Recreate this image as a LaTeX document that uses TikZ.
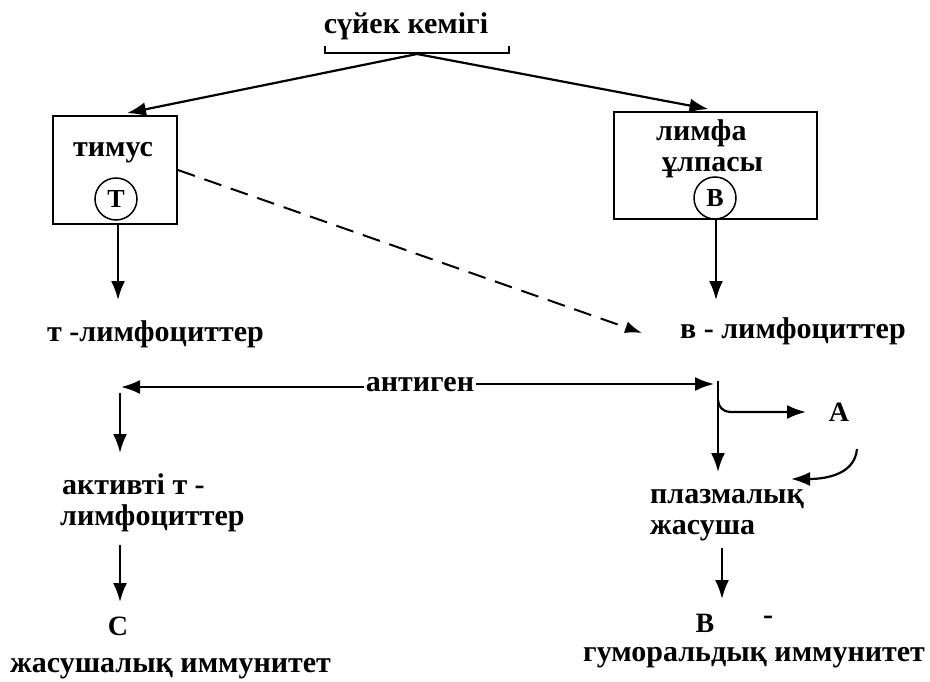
\documentclass[tikz,border=0pt]{standalone}
\usepackage{fontspec}
\setmainfont{Liberation Serif}
\usetikzlibrary{arrows.meta,calc}
\begin{document}
\begin{tikzpicture}[x=1pt,y=-1pt,
  txt/.style={font=\fontsize{30}{31}\selectfont\bfseries, inner sep=0pt},
  two/.style={txt, align=left, anchor=west},
  ltr/.style={font=\fontsize{28}{31}\selectfont\bfseries, inner sep=0pt},
  boxst/.style={draw, line width=1.8pt, inner sep=0pt},
  circ/.style={draw, circle, line width=1.5pt, minimum size=42pt, inner sep=0pt, font=\fontsize{26}{28}\selectfont\bfseries},
  ln/.style={line width=2pt},
  arr/.style={line width=2.2pt, -{Latex[length=19pt,width=14pt]}},
  dsh/.style={line width=2pt, dash pattern=on 18pt off 10pt, -{Latex[length=17pt,width=12pt]}}]
\useasboundingbox (0,0) rectangle (930,682);
% top
\node[txt] (bm) at (406,26) {сүйек кемігі};
\coordinate (bl) at (325,46);
\coordinate (br) at (509,46);
\coordinate (ap) at (417,54);
\draw[ln] (bl) -- ++(0,7) -- ($(br)+(0,7)$) -- (br);
% boxes
\node[boxst, minimum width=124pt, minimum height=108pt] (tim) at (115,170) {};
\node[boxst, minimum width=203pt, minimum height=107pt] (lim) at (715.5,165.5) {};
\node[txt] (timt) at (113,153) {тимус};
\node[circ] (T) at (116,199) {T};
\node[two] (limt) at (656,149) {лимфа\\\hspace*{6pt}ұлпасы};
\node[circ] (B) at (715,198) {B};
\draw[arr] (ap) -- ($(tim.north)+(12,-2)$);
\draw[arr] (ap) -- ($(lim.north)+(-7,-2)$);
% down from boxes
\coordinate (tl1) at (118,300);
\coordinate (bl1) at (716,300);
\draw[arr] (tim.south -| tl1) -- (tl1);
\draw[arr] (lim.south -| bl1) -- (bl1);
\node[txt, anchor=east] (tly) at (264,334) {т -лимфоциттер};
\node[txt, anchor=west] (bly) at (680,331) {в - лимфоциттер};
\coordinate (dend) at (642,333);
\draw[dsh] (tim.east) -- (dend);
% antigen
\node[txt, fill=white, inner xsep=2pt, inner ysep=2pt] (ag) at (420,385) {антиген};
\coordinate (agl) at (121,387);
\coordinate (agr) at (714,384);
\draw[arr] (ag.west |- agl) -- (agl);
\draw[arr] (ag.east |- agr) -- (agr);
% right branch
\coordinate (vt) at (718,381);
\coordinate (vb) at (718,472);
\draw[arr] (vt) -- (vb);
\node[ltr] (A) at (839,412) {A};
\coordinate (at) at (806,412);
\draw[arr] (718,400) to[out=-90,in=180] (730,412) -- (at);
\coordinate (cs) at (857,449);
\coordinate (ce) at (791,479);
\draw[arr] (cs) to[out=-95,in=0] (ce);
\node[two] (pl) at (650,515) {плазмалық\\жасуша};
% left branch
\coordinate (la1) at (120,393);
\coordinate (la2) at (120,453);
\draw[arr] (la1) -- (la2);
\node[two] (ak) at (60,503) {\hspace*{2pt}активті т -\\лимфоциттер};
\coordinate (lb1) at (120,545);
\coordinate (lb2) at (120,602);
\draw[arr] (lb1) -- (lb2);
\node[ltr] (C) at (118,626) {C};
\node[txt, anchor=west] (ji) at (10,669) {жасушалық иммунитет};
% right bottom
\coordinate (rb1) at (722,548);
\coordinate (rb2) at (722,599);
\draw[arr] (rb1) -- (rb2);
\node[ltr] (Bb) at (705,623) {B};
\node[txt] (dash) at (768,620) {-};
\node[txt, anchor=west] (gi) at (583,658) {гуморальдық иммунитет};
\end{tikzpicture}
\end{document}
